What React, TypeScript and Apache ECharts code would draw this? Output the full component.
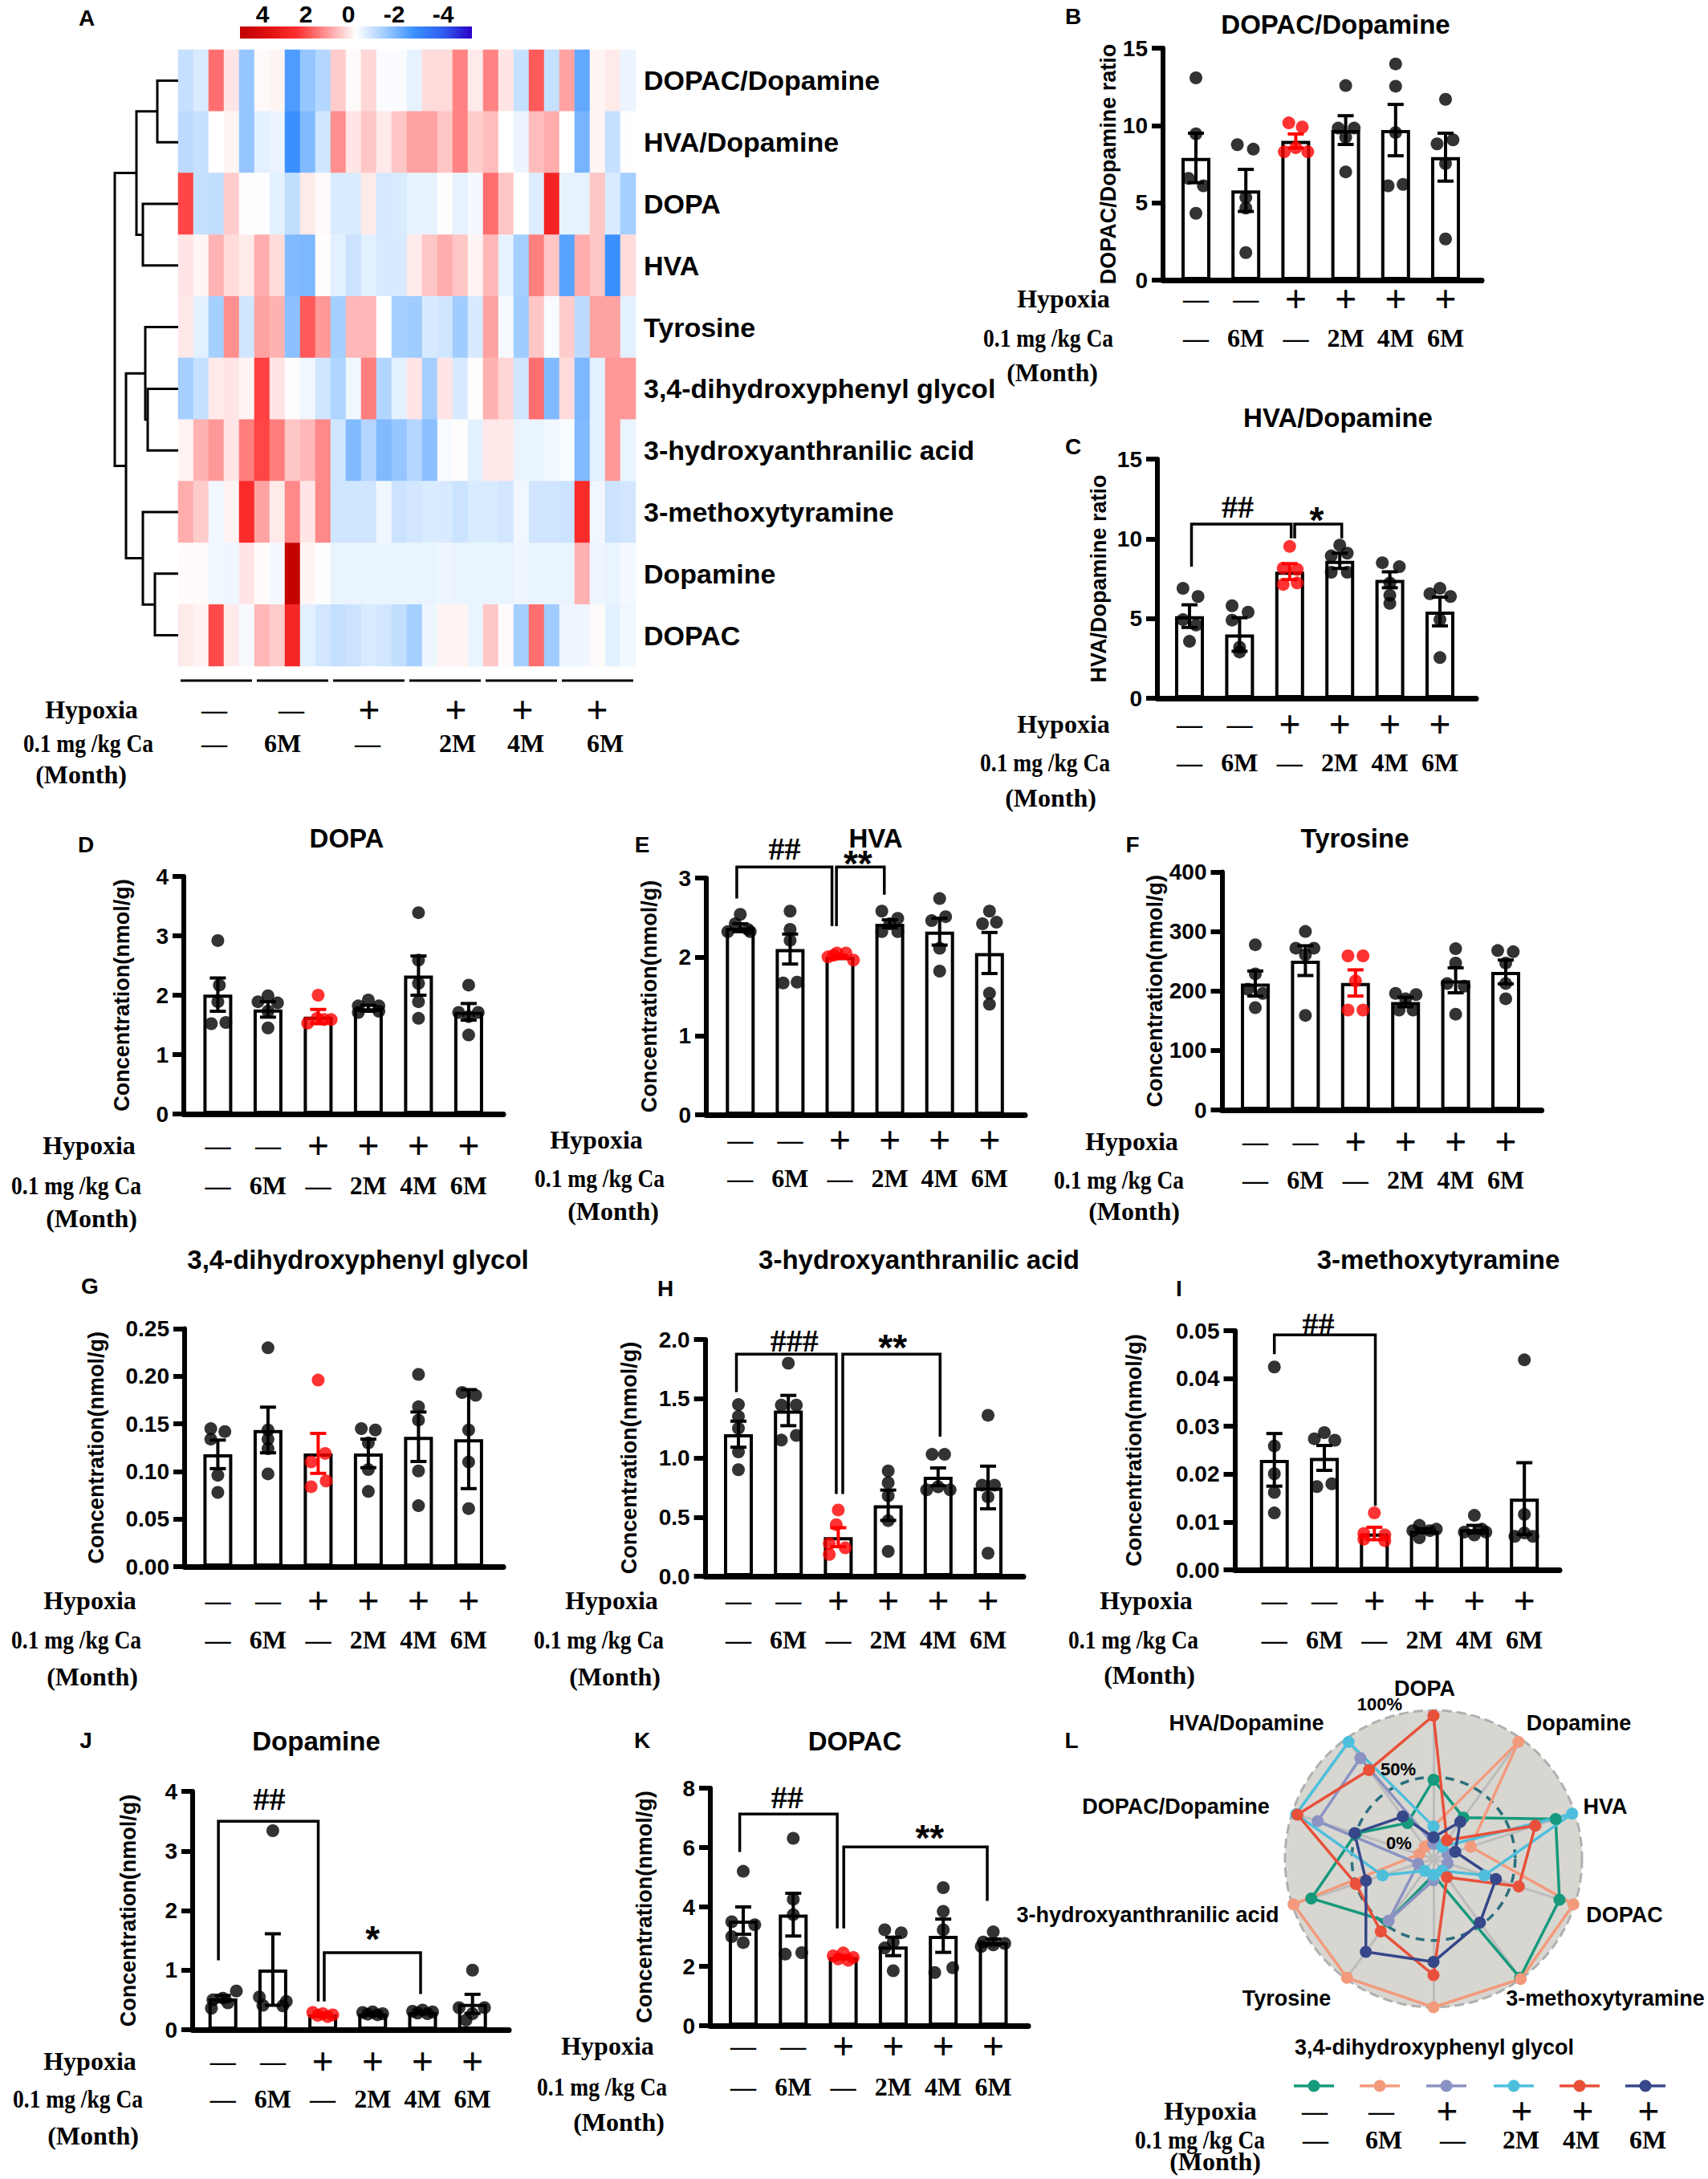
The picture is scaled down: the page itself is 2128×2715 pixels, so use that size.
import React, { useEffect, useRef } from 'react';
import * as echarts from 'echarts';

const W = 2128;
const H = 2715;
const SANS = '"Liberation Sans", Arial, sans-serif';
const SERIF = '"Liberation Serif", "Times New Roman", serif';
const RED = '#ff0000';

// ---------------- Panel A: heatmap data ----------------
const heatRowNames = ['DOPAC/Dopamine', 'HVA/Dopamine', 'DOPA', 'HVA', 'Tyrosine', '3,4-dihydroxyphenyl glycol', '3-hydroxyanthranilic acid', '3-methoxytyramine', 'Dopamine', 'DOPAC'];
const heatCols = Array.from({ length: 30 }, (_, i) => 'S' + (i + 1));
const hmDopacDa = [-0.6, -0.4, 1.4, 0.25, -1.1, 0.05, 0.1, -1.8, -1.1, -0.8, 0.5, 0.05, 0.4, -0.05, -0.05, -0.25, 0.35, 0.35, 1.2, 0.2, 1.2, 0.25, -0.6, 1.6, -0.6, 0.9, -1.6, 0.1, 0.2, -0.2];
const hmHvaDa = [-0.7, -0.6, 0, 0.1, -1.1, -0.3, -0.2, -2.0, -1.3, -0.5, 1.1, 0.25, 0.55, 0.2, 0.55, 0.9, 0.9, 0.55, 1.2, 0.5, 0.65, 0, -0.2, 0.65, 0.8, 0, -1.4, 0.1, -0.6, 0.02];
const hmDopa = [1.8, -0.6, -0.65, 0.5, 0.02, -0.02, -0.3, -0.65, 0.2, 0.05, -0.4, -0.4, 0.2, -0.45, -0.4, -0.25, -0.25, 0.03, -0.25, -0.12, 1.4, 0.55, 0, -0.35, 2.4, -0.25, -0.25, 0.55, -0.4, -0.95];
const hmHva = [0.25, 0.1, 0.75, 0.35, 0.2, 0.8, 0.35, -1.3, -1.35, 0.02, -0.3, -0.55, -0.3, -0.42, -0.42, 0.2, 0.55, 0.8, 0.55, 0.12, 0.7, -0.25, -0.95, 1.25, 0.55, -1.7, 0.8, 0.55, -2.0, 0.35];
const hmTyr = [0.22, -0.3, -0.95, 1.1, -0.5, 0.9, 0.75, -1.2, 1.6, 1.0, -0.95, 0.7, 0.7, 0, -0.95, -1.0, -0.42, -0.5, -1.0, -0.42, 0.9, -0.1, -1.0, 0.55, -0.07, 0.5, -0.7, 0.9, 0.9, -0.3];
const hmDhpg = [-0.95, -0.6, 0.2, 0.25, 0.12, 1.85, 0.25, 0.03, -0.15, -0.5, -0.85, -0.15, 1.25, -0.8, -0.3, 0.25, -0.95, 0.25, -0.42, 0.03, 0.75, 0.4, -0.5, 1.4, -1.3, 0.35, -1.35, -0.3, 1.0, 1.0];
const hmHaa = [0.12, 0.75, 1.0, 0.25, 1.25, 1.8, 1.25, 0.55, 0.7, 1.15, -0.5, -1.3, -0.8, -1.3, -1.1, -0.8, -1.2, -0.07, 0.03, -0.3, 0.22, 0.22, -0.22, -0.22, -0.15, -0.07, -1.3, -0.3, 1.0, -0.22];
const hmMt = [0.8, 0.5, -0.15, 0.12, 2.2, 0.9, 0.2, 1.15, 0.25, 1.15, -0.5, -0.5, -0.5, -0.15, -0.55, -0.47, -0.4, -0.42, -0.55, -0.4, -0.4, -0.47, -0.15, -0.5, -0.5, -0.55, 2.2, -0.15, -0.55, -0.47];
const hmDa = [0.04, 0.04, -0.15, -0.18, 0.25, 0.04, -0.12, 3.8, 0.1, -0.02, -0.22, -0.22, -0.22, -0.22, -0.22, -0.22, -0.22, -0.18, -0.22, -0.22, -0.22, -0.22, -0.18, -0.22, -0.22, -0.22, 0.75, -0.18, -0.22, -0.12];
const hmDopac = [0.2, 0.12, 1.75, 0.2, -0.1, 0.7, 0.5, 2.3, -0.3, -0.47, -0.62, -0.55, -0.4, -0.47, -0.65, -0.95, -0.18, 0.12, 0.12, -0.22, 0.55, 0.04, -0.95, 1.4, -1.0, -0.18, -0.18, 0.05, -0.3, -0.15];
const heatRows = [hmDopacDa, hmHvaDa, hmDopa, hmHva, hmTyr, hmDhpg, hmHaa, hmMt, hmDa, hmDopac];
const heatLegendTicks = ['4', '2', '0', '-2', '-4'];
// dendrogram merges: [nodeA, nodeB, height]; leaves 0..9, merged nodes numbered from 10
const dendroMerges = [[0, 1, 26], [2, 3, 44], [10, 11, 52], [5, 6, 38], [4, 13, 41], [8, 9, 29], [7, 15, 44], [14, 16, 65], [12, 17, 79]];

// ---------------- group labels ----------------
const hypSigns = ['—', '—', '+', '+', '+', '+'];
const caSigns = ['—', '6M', '—', '2M', '4M', '6M'];

// ---------------- Panel B: DOPAC/Dopamine ratio ----------------
const dopacDaMean = [7.9, 5.8, 9.0, 9.7, 9.7, 7.95];
const dopacDaSem = [1.6, 1.36, 0.45, 0.93, 1.66, 1.55];
const dopacDaPts = [[13.08, 9.46, 6.58, 6.1, 4.32], [8.76, 8.47, 5.34, 4.66, 1.78], [10.17, 9.9, 8.3, 8.56, 8.3], [12.58, 9.83, 9.83, 9.24, 7.0], [13.98, 12.54, 9.54, 6.1, 6.19], [11.69, 8.81, 9.07, 7.54, 2.66]];
const dopacDaJit = [[0, 0, -0.15, 0.15, 0], [-0.17, 0.15, 0, 0, 0], [-0.14, 0.13, -0.23, 0, 0.24], [0, -0.15, 0.17, 0, 0], [0, 0, 0, -0.15, 0.15], [0, -0.17, 0.15, 0, 0]];

// ---------------- Panel C: HVA/Dopamine ratio ----------------
const hvaDaMean = [5.15, 4.0, 7.94, 8.62, 7.43, 5.44];
const hvaDaSem = [0.71, 1.05, 0.5, 0.48, 0.5, 0.9];
const hvaDaPts = [[6.89, 6.38, 4.93, 4.59, 3.57], [5.8, 5.4, 4.9, 3.2, 2.9], [9.52, 8.16, 8.08, 7.14, 7.23], [9.6, 8.93, 9.1, 7.9, 7.9], [8.5, 8.25, 7.23, 6.46, 5.95], [6.89, 6.55, 6.38, 4.93, 2.55]];
const hvaDaJit = [[-0.13, 0.17, -0.13, 0.13, 0], [-0.15, 0.17, -0.15, 0, 0], [0, -0.13, 0.15, -0.13, 0.15], [0, -0.17, 0.15, -0.17, 0.15], [-0.15, 0.19, 0, 0, 0], [0, -0.2, 0.21, 0, 0]];
const hvaDaBrackets = [[0.04, 2.03, 10.92, 8.25, 10.03, 0.96, 12.0], [2.1, 3.04, 10.92, 10.03, 10.03, 2.54, 11.7]];
const hvaDaMarks = ['##', '*'];

// ---------------- Panel D: DOPA ----------------
const dopaMean = [2.01, 1.76, 1.64, 1.78, 2.33, 1.72];
const dopaSem = [0.28, 0.13, 0.12, 0.05, 0.33, 0.14];
const dopaPts = [[2.92, 2.17, 1.89, 1.52, 1.54], [1.99, 1.89, 1.87, 1.73, 1.45], [2.0, 1.53, 1.61, 1.59, 1.59], [1.92, 1.82, 1.82, 1.71, 1.73], [3.39, 2.59, 2.2, 1.89, 1.61], [2.17, 1.71, 1.71, 1.64, 1.33]];
const dopaJit = [[0, 0.03, 0, -0.13, 0.16], [0, -0.2, 0.19, 0, 0], [0, -0.21, -0.02, 0.12, 0.26], [0, -0.2, 0.21, -0.2, 0.21], [0, 0, 0, 0, 0], [0, -0.2, 0.19, 0, 0]];

// ---------------- Panel E: HVA ----------------
const hvaMean = [2.37, 2.1, 2.0, 2.42, 2.32, 2.05];
const hvaSem = [0.05, 0.19, 0.02, 0.05, 0.17, 0.26];
const hvaPts = [[2.54, 2.42, 2.35, 2.32, 2.32], [2.58, 2.35, 2.21, 1.67, 1.68], [2.0, 2.05, 2.05, 1.96, 2.02], [2.58, 2.49, 2.32, 2.32, 2.42], [2.74, 2.51, 2.46, 2.11, 1.82], [2.58, 2.44, 2.42, 1.54, 1.4]];
const hvaJit = [[0, -0.1, 0.15, -0.25, 0.2], [0, 0, 0, -0.14, 0.14], [-0.24, -0.06, 0.12, 0.27, -0.13], [-0.16, 0.16, -0.16, 0.16, 0], [0, 0.12, -0.16, 0, 0], [0, 0.14, -0.14, 0, 0]];
const hvaBrackets = [[-0.07, 1.84, 3.14, 2.74, 2.39, 0.89, 3.37], [1.93, 2.89, 3.14, 2.39, 2.79, 2.36, 3.28]];
const hvaMarks = ['##', '**'];

// ---------------- Panel F: Tyrosine ----------------
const tyrMean = [212.6, 251, 213.5, 181.4, 218, 232];
const tyrSem = [21, 25, 22, 8, 21, 20];
const tyrPts = [[277.7, 228.8, 203, 196, 172], [300, 272, 272, 261, 159], [259, 259, 217, 168, 168], [196, 194, 187, 168, 168], [271, 247, 212.6, 208, 161], [268, 266, 247, 212.6, 187]];
const tyrJit = [[0, 0, -0.15, 0.15, 0], [0, -0.19, 0.17, 0, 0], [-0.15, 0.15, 0, -0.15, 0.15], [-0.2, 0.21, 0, -0.13, 0.15], [0, 0, -0.17, 0.17, 0], [-0.16, 0.15, 0, 0, 0]];

// ---------------- Panel G: 3,4-dihydroxyphenyl glycol ----------------
const dhpgMean = [0.118, 0.1436, 0.119, 0.119, 0.1365, 0.134];
const dhpgSem = [0.015, 0.024, 0.021, 0.015, 0.026, 0.052];
const dhpgPts = [[0.145, 0.142, 0.134, 0.096, 0.078], [0.23, 0.1436, 0.134, 0.124, 0.0975], [0.196, 0.119, 0.11, 0.084, 0.09], [0.145, 0.1436, 0.13, 0.102, 0.079], [0.202, 0.168, 0.154, 0.1006, 0.064], [0.183, 0.18, 0.1436, 0.11, 0.061]];
const dhpgJit = [[-0.14, 0.14, -0.14, 0, 0], [0, 0, 0, 0, 0], [0, 0.14, -0.14, -0.14, 0.16], [-0.14, 0.14, 0, 0, 0], [0, 0, 0, 0, 0], [-0.13, 0.14, 0, 0, 0]];

// ---------------- Panel H: 3-hydroxyanthranilic acid ----------------
const haaMean = [1.2, 1.4, 0.33, 0.6, 0.84, 0.75];
const haaSem = [0.11, 0.128, 0.08, 0.128, 0.075, 0.18];
const haaPts = [[1.45, 1.35, 1.25, 1.05, 0.9], [1.8, 1.446, 1.446, 1.15, 1.19], [0.56, 0.436, 0.276, 0.24, 0.185], [0.89, 0.79, 0.68, 0.47, 0.21], [1.03, 1.03, 0.73, 0.756, 0.73], [1.36, 0.77, 0.77, 0.67, 0.195]];
const haaJit = [[0, 0, 0, 0, 0], [0, -0.14, 0.16, -0.14, 0.16], [0, -0.04, -0.18, 0.14, -0.18], [0, 0, 0, 0, 0], [-0.12, 0.13, -0.23, 0, 0.24], [0, -0.12, 0.13, 0, 0]];
const haaBrackets = [[-0.04, 1.96, 1.877, 1.556, 0.695, 1.12, 1.99], [2.09, 4.04, 1.877, 0.695, 1.18, 3.09, 2.0]];
const haaMarks = ['###', '**'];

// ---------------- Panel I: 3-methoxytyramine ----------------
const mtMean = [0.023, 0.0234, 0.0076, 0.0082, 0.0085, 0.0149];
const mtSem = [0.0055, 0.0026, 0.0013, 0.0004, 0.0008, 0.0075];
const mtPts = [[0.0424, 0.0259, 0.0201, 0.0162, 0.0119], [0.0287, 0.0274, 0.0271, 0.0174, 0.018], [0.0119, 0.0076, 0.0073, 0.0064, 0.0061], [0.0093, 0.0082, 0.0085, 0.0082, 0.0067], [0.0114, 0.0079, 0.0079, 0.0073, 0.0085], [0.0439, 0.0116, 0.007, 0.007, 0.0077]];
const mtJit = [[0, 0, 0, 0, 0], [0, -0.2, 0.21, -0.15, 0.15], [0, -0.21, 0.21, -0.21, 0.21], [-0.1, -0.23, 0.24, 0.11, -0.1], [0, -0.2, 0.23, 0, 0.15], [0, 0, -0.19, 0.17, 0]];
const mtBrackets = [[0, 2.02, 0.0491, 0.0451, 0.0134, 0.88, 0.0515]];
const mtMarks = ['##'];

// ---------------- Panel J: Dopamine ----------------
const daMean = [0.526, 1.01, 0.255, 0.27, 0.296, 0.434];
const daSem = [0.05, 0.6, 0.012, 0.01, 0.01, 0.16];
const daPts = [[0.65, 0.53, 0.5, 0.45, 0.36], [3.34, 0.55, 0.475, 0.41, 0.4], [0.29, 0.27, 0.25, 0.24, 0.22], [0.3, 0.29, 0.27, 0.26, 0.25], [0.33, 0.31, 0.3, 0.28, 0.27], [1.0, 0.37, 0.37, 0.27, 0.16]];
const daJit = [[0.27, 0, -0.2, 0.1, -0.23], [0, -0.27, 0.27, -0.2, 0.2], [-0.2, 0, 0.2, -0.1, 0.1], [0, -0.2, 0.2, -0.1, 0.1], [0, -0.2, 0.2, -0.1, 0.1], [0, -0.27, 0.24, 0, -0.13]];
const daBrackets = [[-0.09, 1.91, 3.5, 1.165, 0.475, 0.93, 3.87], [2.03, 3.96, 1.293, 0.475, 0.6, 3.0, 1.65]];
const daMarks = ['##', '*'];

// ---------------- Panel K: DOPAC ----------------
const dopacMean = [3.54, 3.74, 2.31, 2.67, 3.03, 2.82];
const dopacSem = [0.46, 0.72, 0.05, 0.31, 0.56, 0.1];
const dopacPts = [[5.2, 3.5, 3.4, 3.0, 2.8], [6.31, 4.26, 3.74, 2.41, 2.46], [2.45, 2.35, 2.3, 2.25, 2.2], [3.23, 3.13, 2.82, 2.62, 1.85], [4.65, 3.85, 3.23, 1.95, 1.79], [3.16, 2.82, 2.77, 2.72, 2.67]];
const dopacJit = [[0, -0.23, 0.23, -0.23, 0], [0, 0, 0, -0.16, 0.17], [0, -0.2, 0.2, -0.1, 0.1], [-0.17, 0.16, 0, -0.17, 0], [0, 0, 0, 0.19, -0.17], [0, -0.2, 0.23, 0, -0.24]];
const dopacBrackets = [[-0.07, 1.88, 7.13, 5.85, 3.28, 0.88, 7.7], [2.01, 4.88, 6.02, 3.28, 4.2, 3.73, 6.6]];
const dopacMarks = ['##', '**'];

// ---------------- Panel L: radar (clockwise from top) ----------------
const radarAxesCW = ['DOPA', 'Dopamine', 'HVA', 'DOPAC', '3-methoxytyramine', '3,4-dihydroxyphenyl glycol', 'Tyrosine', '3-hydroxyanthranilic acid', 'DOPAC/Dopamine', 'HVA/Dopamine'];
const radarCtrl = [48, 27, 85, 88, 99, 1, 47, 85, 50, 22];
const radarCa6 = [13, 97, 18, 99, 100, 100, 99, 99, 0, 0];
const radarHyp = [0, 0, 0, 0, 0, 5, 46, 1, 80, 82];
const radarHypCa2 = [13, 0, 98, 29, 0, 1, 0, 29, 97, 97];
const radarHypCa4 = [96, 6, 69, 56, 6, 76, 56, 50, 96, 71];
const radarHypCa6 = [5, 23, 6, 38, 48, 66, 75, 42, 51, 28];
const radarNames = ['Control', '6M Ca', 'Hypoxia', 'Hypoxia+2M Ca', 'Hypoxia+4M Ca', 'Hypoxia+6M Ca'];
const radarColors = ['#16997c', '#f39a7c', '#8a93c2', '#4dbfdc', '#e8503a', '#36478a'];
const radarRingLabels = ['100%', '50%', '0%'];

// ---------------- layout (positions only) ----------------
const HM = { left: 222, top: 62, width: 570, height: 768 };
const LAYOUT: any = {
  B: { axisX: 1449, c0: 1490, step: 62.2, xEnd: 1846, yTop: 60, y0: 349, nameX: 1390, title: [1664, 30], letter: [1337, 20], rows: [372, 421, 464], labX: [1325, 1306, 1311] },
  C: { axisX: 1442, c0: 1482, step: 62.4, xEnd: 1839, yTop: 572, y0: 870, nameX: 1366, title: [1667, 520], letter: [1337, 556], rows: [902, 950, 994], labX: [1325, 1302, 1309] },
  D: { axisX: 229, c0: 271.4, step: 62.5, xEnd: 627, yTop: 1092, y0: 1388, nameX: 149.5, title: [432, 1044], letter: [107, 1052], rows: [1427, 1477, 1518], labX: [111, 95, 114] },
  E: { axisX: 880, c0: 922.3, step: 62.1, xEnd: 1277, yTop: 1094, y0: 1389, nameX: 806, title: [1091, 1044], letter: [800, 1052], rows: [1420, 1468, 1509], labX: [743, 747, 764] },
  F: { axisX: 1522.5, c0: 1564, step: 62.4, xEnd: 1920.6, yTop: 1086.5, y0: 1383, nameX: 1450, title: [1688, 1044], letter: [1411, 1052], rows: [1422, 1470, 1509], labX: [1410, 1394, 1413] },
  G: { axisX: 230, c0: 271.4, step: 62.5, xEnd: 627, yTop: 1655.6, y0: 1952, nameX: 117, title: [446, 1569], letter: [112, 1602], rows: [1994, 2043, 2089], labX: [112, 95, 115] },
  H: { axisX: 878.6, c0: 920, step: 62.2, xEnd: 1275, yTop: 1669, y0: 1964, nameX: 781.7, title: [1145, 1569], letter: [829, 1605], rows: [1994, 2043, 2089], labX: [762, 746, 766] },
  I: { axisX: 1538.5, c0: 1587.7, step: 62.3, xEnd: 1943, yTop: 1658, y0: 1956, nameX: 1410, title: [1792, 1569], letter: [1469, 1605], rows: [1994, 2043, 2087], labX: [1428, 1412, 1432] },
  J: { axisX: 240, c0: 277.7, step: 62.2, xEnd: 634, yTop: 2232, y0: 2529, nameX: 157.5, title: [394, 2169], letter: [107, 2168], rows: [2568, 2615, 2661], labX: [112, 97, 116] },
  K: { axisX: 885, c0: 926, step: 62.3, xEnd: 1281, yTop: 2228, y0: 2524, nameX: 800, title: [1065, 2169], letter: [800, 2168], rows: [2549, 2600, 2644], labX: [757, 750, 771] },
};
const RADAR_C = [1786, 2316];
const RADAR_R = 185;
// label anchor positions for the radar axes (clockwise order, same as radarAxesCW)
const RADAR_LABEL_POS = [[1775, 2104], [1967, 2147], [2000, 2251], [2024, 2386], [2000, 2490], [1787, 2551], [1603, 2490], [1430, 2386], [1465, 2251], [1553, 2147]];
const RADAR_RING_POS = [[1719, 2123], [1742, 2204], [1743, 2296]];

const CONC = 'Concentration(nmol/g)';
const PANELS: any[] = [
  { id: 'B', title: 'DOPAC/Dopamine', yName: 'DOPAC/Dopamine ratio', yMax: 15, yInt: 5, dec: 0, mean: dopacDaMean, sem: dopacDaSem, pts: dopacDaPts, jit: dopacDaJit },
  { id: 'C', title: 'HVA/Dopamine', yName: 'HVA/Dopamine ratio', yMax: 15, yInt: 5, dec: 0, mean: hvaDaMean, sem: hvaDaSem, pts: hvaDaPts, jit: hvaDaJit, brackets: hvaDaBrackets, marks: hvaDaMarks },
  { id: 'D', title: 'DOPA', yName: CONC, yMax: 4, yInt: 1, dec: 0, mean: dopaMean, sem: dopaSem, pts: dopaPts, jit: dopaJit },
  { id: 'E', title: 'HVA', yName: CONC, yMax: 3, yInt: 1, dec: 0, mean: hvaMean, sem: hvaSem, pts: hvaPts, jit: hvaJit, brackets: hvaBrackets, marks: hvaMarks },
  { id: 'F', title: 'Tyrosine', yName: CONC, yMax: 400, yInt: 100, dec: 0, mean: tyrMean, sem: tyrSem, pts: tyrPts, jit: tyrJit },
  { id: 'G', title: '3,4-dihydroxyphenyl glycol', yName: CONC, yMax: 0.25, yInt: 0.05, dec: 2, mean: dhpgMean, sem: dhpgSem, pts: dhpgPts, jit: dhpgJit },
  { id: 'H', title: '3-hydroxyanthranilic acid', yName: CONC, yMax: 2.0, yInt: 0.5, dec: 1, mean: haaMean, sem: haaSem, pts: haaPts, jit: haaJit, brackets: haaBrackets, marks: haaMarks },
  { id: 'I', title: '3-methoxytyramine', yName: CONC, yMax: 0.05, yInt: 0.01, dec: 2, mean: mtMean, sem: mtSem, pts: mtPts, jit: mtJit, brackets: mtBrackets, marks: mtMarks },
  { id: 'J', title: 'Dopamine', yName: CONC, yMax: 4, yInt: 1, dec: 0, mean: daMean, sem: daSem, pts: daPts, jit: daJit, brackets: daBrackets, marks: daMarks },
  { id: 'K', title: 'DOPAC', yName: CONC, yMax: 8, yInt: 2, dec: 0, mean: dopacMean, sem: dopacSem, pts: dopacPts, jit: dopacJit, brackets: dopacBrackets, marks: dopacMarks },
];

const HEAT_COLORS = ['#2a00c8', '#2f5ef0', '#3a90ff', '#a0ccff', '#ffffff', '#ff9898', '#ff3030', '#e01010', '#c00000'];

function txt(text: string, x: number, y: number, font: string, align: string = 'center', sx: number = 1) {
  return { type: 'text', x, y, scaleX: sx, z: 20, silent: true, style: { text, font, fill: '#000', textAlign: align, textVerticalAlign: 'middle' } };
}

function signRows(g: any[], hypXs: number[], caXs: number[], rows: number[], labX: number[]) {
  const f = `bold 32px ${SERIF}`;
  g.push(txt('Hypoxia', labX[0], rows[0], f));
  g.push(txt('0.1 mg /kg Ca', labX[1], rows[1], f, 'center', 0.86));
  g.push(txt('(Month)', labX[2], rows[2], f));
  hypSigns.forEach((s, i) => g.push(txt(s, hypXs[i], rows[0], s === '+' ? `bold 48px ${SERIF}` : f)));
  caSigns.forEach((s, i) => g.push(txt(s, caXs[i], rows[1], f)));
}

function buildOption() {
  const grids: any[] = [];
  const xAxes: any[] = [];
  const yAxes: any[] = [];
  const series: any[] = [];
  const g: any[] = [];

  // ---------- Panel A ----------
  grids.push({ left: HM.left, top: HM.top, width: HM.width, height: HM.height });
  xAxes.push({ gridIndex: 0, type: 'category', data: heatCols, show: false });
  yAxes.push({
    gridIndex: 0, type: 'category', data: heatRowNames, inverse: true, position: 'right',
    axisLine: { show: false }, axisTick: { show: false }, splitLine: { show: false },
    axisLabel: { color: '#000', fontFamily: SANS, fontWeight: 'bold', fontSize: 34, margin: 10 },
  });
  const heatData: any[] = [];
  heatRows.forEach((row, r) => row.forEach((v, c) => heatData.push([c, r, v])));
  series.push({ type: 'heatmap', xAxisIndex: 0, yAxisIndex: 0, data: heatData, silent: true });

  g.push(txt('A', 108, 22, `bold 28px ${SANS}`));
  const stops = HEAT_COLORS.slice().reverse().map((c, i) => ({ offset: i / (HEAT_COLORS.length - 1), color: c }));
  g.push({ type: 'rect', z: 5, shape: { x: 299, y: 33, width: 289, height: 15 }, style: { fill: new echarts.graphic.LinearGradient(0, 0, 1, 0, stops) } });
  const legX = [327, 381, 434, 491, 552];
  heatLegendTicks.forEach((t, i) => g.push(txt(t, legX[i], 17, `bold 30px ${SANS}`)));
  const rowH = HM.height / heatRowNames.length;
  const nodes: any[] = heatRowNames.map((_, i) => ({ x: HM.left, y: HM.top + rowH * (i + 0.5) }));
  dendroMerges.forEach(([a, b, h]) => {
    const A = nodes[a];
    const B = nodes[b];
    const mx = HM.left - h;
    g.push({ type: 'polyline', z: 5, shape: { points: [[A.x, A.y], [mx, A.y], [mx, B.y], [B.x, B.y]] }, style: { stroke: '#000', lineWidth: 3, fill: null } });
    nodes.push({ x: mx, y: (A.y + B.y) / 2 });
  });
  const gw = HM.width / 6;
  for (let k = 0; k < 6; k++) {
    g.push({ type: 'line', z: 5, shape: { x1: HM.left + k * gw + 3, y1: 848, x2: HM.left + (k + 1) * gw - 3, y2: 848 }, style: { stroke: '#000', lineWidth: 3 } });
  }
  signRows(g, [267, 363, 460, 568, 651, 744], [267, 352, 458, 570, 655, 754], [884, 926, 965], [114, 110, 101]);

  // ---------- Bar panels ----------
  PANELS.forEach((p, k) => {
    const gi = k + 1;
    const L = LAYOUT[p.id];
    const xmin = (L.axisX - L.c0) / L.step;
    const xmax = (L.xEnd - L.c0) / L.step;
    grids.push({ left: L.axisX, top: L.yTop, width: L.xEnd - L.axisX, height: L.y0 - L.yTop });
    xAxes.push({
      gridIndex: gi, type: 'value', min: xmin, max: xmax,
      axisLine: { show: true, onZero: false, lineStyle: { color: '#000', width: 7 } },
      axisTick: { show: false }, axisLabel: { show: false }, splitLine: { show: false },
    });
    yAxes.push({
      gridIndex: gi, type: 'value', min: 0, max: p.yMax, interval: p.yInt,
      axisLine: { show: true, onZero: false, lineStyle: { color: '#000', width: 6 } },
      axisTick: { show: true, length: 14, lineStyle: { color: '#000', width: 6 } },
      axisLabel: { color: '#000', fontFamily: SANS, fontWeight: 'bold', fontSize: 28, margin: 19, formatter: (v: number) => v.toFixed(p.dec) },
      splitLine: { show: false },
      name: p.yName, nameLocation: 'middle', nameRotate: 90, nameGap: L.axisX - L.nameX - 16,
      nameTextStyle: { color: '#000', fontFamily: SANS, fontWeight: 'bold', fontSize: 27 },
    });
    series.push({
      type: 'bar', xAxisIndex: gi, yAxisIndex: gi, barWidth: 36, silent: true, z: 2,
      data: p.mean.map((m: number, i: number) => [i, m]),
      itemStyle: { color: '#fff', borderColor: '#000', borderWidth: 4 },
    });
    series.push({
      type: 'custom', xAxisIndex: gi, yAxisIndex: gi, silent: true, z: 3,
      data: p.mean.map((m: number, i: number) => [i, m - p.sem[i], m + p.sem[i]]),
      renderItem: (params: any, api: any) => {
        const i = api.value(0);
        const lo = api.coord([i, api.value(1)]);
        const hi = api.coord([i, api.value(2)]);
        const col = params.dataIndex === 2 ? RED : '#000';
        const cw = 10;
        const st = { stroke: col, lineWidth: 4 };
        return {
          type: 'group', children: [
            { type: 'line', shape: { x1: lo[0], y1: lo[1], x2: hi[0], y2: hi[1] }, style: st },
            { type: 'line', shape: { x1: hi[0] - cw, y1: hi[1], x2: hi[0] + cw, y2: hi[1] }, style: st },
            { type: 'line', shape: { x1: lo[0] - cw, y1: lo[1], x2: lo[0] + cw, y2: lo[1] }, style: st },
          ],
        };
      },
    });
    const pts: any[] = [];
    p.pts.forEach((arr: number[], gIdx: number) => arr.forEach((v: number, j: number) => {
      pts.push({ value: [gIdx + p.jit[gIdx][j], v], itemStyle: { color: gIdx === 2 ? RED : '#000' } });
    }));
    series.push({ type: 'scatter', xAxisIndex: gi, yAxisIndex: gi, data: pts, symbol: 'circle', symbolSize: 16, z: 4, silent: true });
    if (p.brackets) {
      series.push({
        type: 'custom', xAxisIndex: gi, yAxisIndex: gi, silent: true, z: 5, clip: false,
        data: p.brackets,
        renderItem: (params: any, api: any) => {
          const x1 = api.value(0), x2 = api.value(1), yt = api.value(2), yl = api.value(3), yr = api.value(4);
          const a = api.coord([x1, yl]);
          const b = api.coord([x1, yt]);
          const c = api.coord([x2, yt]);
          const d = api.coord([x2, yr]);
          const t = api.coord([api.value(5), api.value(6)]);
          const mark = p.marks[params.dataIndex];
          const star = mark.indexOf('*') >= 0;
          return {
            type: 'group', children: [
              { type: 'polyline', shape: { points: [a, b, c, d] }, style: { stroke: '#000', lineWidth: 3.5, fill: null } },
              { type: 'text', x: t[0], y: t[1] + (star ? 10 : 0), style: { text: mark, fill: '#000', font: star ? `bold 46px ${SANS}` : `bold 40px ${SERIF}`, textAlign: 'center', textVerticalAlign: 'middle' } },
            ],
          };
        },
      });
    }
    g.push(txt(p.title, L.title[0], L.title[1], `bold 33px ${SANS}`));
    g.push(txt(p.id, L.letter[0], L.letter[1], `bold 28px ${SANS}`));
    const xs = [0, 1, 2, 3, 4, 5].map((i) => L.c0 + i * L.step);
    signRows(g, xs, xs, L.rows, L.labX);
  });

  // ---------- Panel L: radar ----------
  const ccw = [0, 9, 8, 7, 6, 5, 4, 3, 2, 1];
  const radarSets = [radarCtrl, radarCa6, radarHyp, radarHypCa2, radarHypCa4, radarHypCa6];
  const radar = {
    center: RADAR_C, radius: RADAR_R, startAngle: 90, splitNumber: 1, shape: 'circle',
    indicator: ccw.map((i) => ({ name: radarAxesCW[i], min: -11.1, max: 100 })),
    axisName: { show: false },
    splitArea: { show: true, areaStyle: { color: ['#d7d6d1'] } },
    splitLine: { lineStyle: { color: '#b0b0b0', width: 3, type: 'dashed' } },
    axisLine: { lineStyle: { color: '#bcbcbc', width: 3 } },
    axisTick: { show: false }, axisLabel: { show: false },
  };
  series.push({
    type: 'radar', radarIndex: 0, symbol: 'circle', symbolSize: 15, z: 3, silent: true,
    data: radarSets.map((vals, s) => ({
      name: radarNames[s], value: ccw.map((i) => vals[i]),
      lineStyle: { color: radarColors[s], width: 3.5 }, itemStyle: { color: radarColors[s] },
    })),
  });
  radarAxesCW.forEach((name, i) => {
    const pos = RADAR_LABEL_POS[i];
    g.push(txt(name, pos[0], pos[1], `bold 27px ${SANS}`));
  });
  const r50 = RADAR_R * (50 + 11.1) / 111.1;
  g.push({ type: 'circle', z: 1, silent: true, shape: { cx: RADAR_C[0], cy: RADAR_C[1], r: r50 }, style: { fill: null, stroke: '#2b6f7e', lineWidth: 3.5, lineDash: [11, 8] } });
  radarRingLabels.forEach((t, i) => g.push(txt(t, RADAR_RING_POS[i][0], RADAR_RING_POS[i][1], `bold 22px ${SANS}`)));
  g.push(txt('L', 1335, 2168, `bold 28px ${SANS}`));
  const legXs = [1637, 1719, 1802, 1886, 1968, 2050];
  legXs.forEach((x, i) => {
    g.push({ type: 'line', z: 5, shape: { x1: x - 25, y1: 2599, x2: x + 25, y2: 2599 }, style: { stroke: radarColors[i], lineWidth: 3.5 } });
    g.push({ type: 'circle', z: 6, shape: { cx: x, cy: 2599, r: 7.5 }, style: { fill: radarColors[i] } });
  });
  signRows(g, [1638, 1721, 1803, 1896, 1972, 2054], [1639, 1724, 1810, 1895, 1970, 2053], [2630, 2666, 2693], [1508, 1495, 1514]);

  return {
    animation: false,
    backgroundColor: '#ffffff',
    grid: grids,
    xAxis: xAxes,
    yAxis: yAxes,
    radar,
    visualMap: [{ type: 'continuous', min: -4, max: 4, seriesIndex: 0, show: false, inRange: { color: HEAT_COLORS } }],
    series,
    graphic: { elements: g },
  };
}

export default function App() {
  const ref = useRef<HTMLDivElement>(null);
  useEffect(() => {
    if (!ref.current) return undefined;
    const chart = echarts.init(ref.current, undefined, { renderer: 'svg', width: W, height: H });
    chart.setOption(buildOption() as any);
    return () => chart.dispose();
  }, []);
  return <div ref={ref} style={{ position: 'absolute', left: 0, top: 0, width: W, height: H, background: '#fff' }} />;
}
